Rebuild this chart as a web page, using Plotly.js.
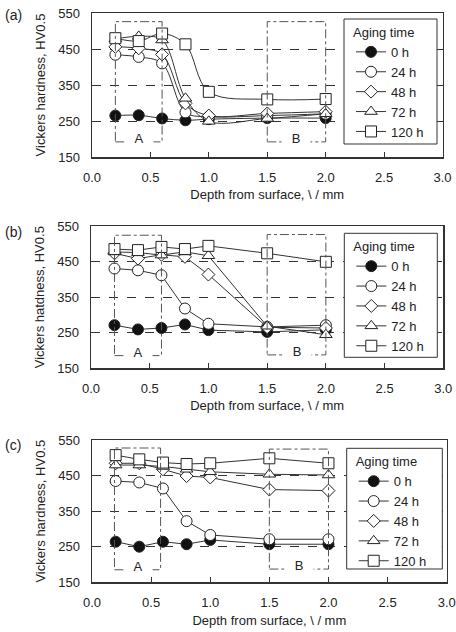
<!DOCTYPE html>
<html>
<head>
<meta charset="utf-8">
<script src="https://cdn.plot.ly/plotly-3.0.1.min.js"></script>
<style>html,body{margin:0;padding:0;background:#fff;}#chart{width:456px;height:632px;}</style>
</head>
<body>
<div id="chart"></div>
<script>
// ---- data ----
const depth = [0.2, 0.4, 0.6, 0.8, 1.0, 1.5, 2.0];
const agingLabels = ['0 h', '24 h', '48 h', '72 h', '120 h'];

const a_0h   = [265, 266, 257, 252, 255, 258, 258];
const a_24h  = [434, 428, 410, 274, 262, 265, 270];
const a_48h  = [456, 452, 435, 299, 265, 271, 276];
const a_72h  = [478, 485, 475, 313, 249, 257, 270];
const a_120h = [480, 472, 493, 463, 331, 310, 311];

const b_0h   = [271, 259, 263, 273, 257, 252, 258];
const b_24h  = [431, 426, 412, 318, 275, 266, 271];
const b_48h  = [474, 459, 470, 464, 414, 265, 263];
const b_72h  = [478, 476, 469, 478, 467, 268, 244];
const b_120h = [486, 483, 492, 486, 495, 474, 450];

const c_0h   = [264, 250, 264, 257, 269, 257, 257];
const c_24h  = [435, 431, 414, 322, 283, 271, 271];
const c_48h  = [485, 485, 468, 449, 445, 411, 408];
const c_72h  = [480, 480, 476, 468, 461, 454, 452];
const c_120h = [508, 496, 487, 483, 485, 499, 485];

const xTickVals = [0, 0.5, 1.0, 1.5, 2.0, 2.5, 3.0];
const yTickVals = [150, 250, 350, 450, 550];
const xTitle = 'Depth from surface, \\ / mm';
const yTitles = ['Vickers hardness, HV0.5', 'Vickers hatdness, HV0.5', 'Vickers hardness, HV0.5'];
const panelLabels = ['(a)', '(b)', '(c)'];
const legendTitle = 'Aging time';

// ---- styling ----
const FONT = 'Liberation Sans, Arial, Helvetica, sans-serif';
const INK = '#222';
const markerStyles = [
  {symbol: 'circle', color: '#111'},
  {symbol: 'circle', color: '#fff'},
  {symbol: 'diamond', color: '#fff'},
  {symbol: 'triangle-up', color: '#fff'},
  {symbol: 'square', color: '#fff'}
];
const markerSizes = [11, 11, 10, 11, 11];

const panels = [
  {series: [a_0h, a_24h, a_48h, a_72h, a_120h], shape: 'spline'},
  {series: [b_0h, b_24h, b_48h, b_72h, b_120h], shape: 'linear'},
  {series: [c_0h, c_24h, c_48h, c_72h, c_120h], shape: 'linear'}
];

const W = 456, H = 632;
// plot area pixel boxes [left, right, top, bottom]
const boxes = [
  [92, 442.5, 13, 157],
  [91, 443.3, 226.4, 368],
  [92, 446.7, 440.2, 582.2]
];
// legend frame boxes [left, right, top, bottom]
const legendBoxes = [
  [344, 437, 19, 144],
  [344.3, 437.3, 233.3, 357.3],
  [346.7, 442.3, 448.3, 569]
];

const traces = [];
panels.forEach((p, pi) => {
  const sfx = pi === 0 ? '' : String(pi + 1);
  p.series.forEach((vals, si) => {
    traces.push({
      type: 'scatter', mode: 'lines+markers',
      x: depth, y: vals, name: agingLabels[si],
      xaxis: 'x' + sfx, yaxis: 'y' + sfx,
      legend: 'legend' + sfx,
      line: {color: '#333', width: 1, shape: p.shape, smoothing: 1},
      marker: {symbol: markerStyles[si].symbol, color: markerStyles[si].color,
               size: markerSizes[si], line: {color: '#222', width: 1}},
      cliponaxis: false
    });
  });
});

const layout = {
  width: W, height: H,
  margin: {l: 0, r: 0, t: 0, b: 0},
  paper_bgcolor: '#fff', plot_bgcolor: '#fff',
  font: {family: FONT, size: 13, color: INK},
  showlegend: true,
  shapes: [], annotations: []
};

const boxA = [[0.2, 0.6, 192, 526], [0.2, 0.6, 185, 525], [0.19, 0.58, 185, 528]];
const boxB = [[1.5, 2.0, 192, 526], [1.5, 2.0, 187, 527], [1.5, 2.0, 187, 525]];

boxes.forEach((b, i) => {
  const sfx = i === 0 ? '' : String(i + 1);
  const lb = legendBoxes[i];
  layout['xaxis' + sfx] = {
    domain: [b[0] / W, b[1] / W], anchor: 'y' + sfx,
    range: [0, 3], tickvals: xTickVals, tickformat: '.1f',
    ticks: 'inside', ticklen: 5, tickcolor: '#333', tickwidth: 1,
    showline: true, mirror: true, linecolor: '#333', linewidth: 1.5,
    showgrid: false, zeroline: false, ticklabelstandoff: 8,
    tickfont: {size: 13, color: INK},
    title: {text: xTitle, font: {size: 13, color: INK}, standoff: 6}
  };
  layout['yaxis' + sfx] = {
    domain: [1 - b[3] / H, 1 - b[2] / H], anchor: 'x' + sfx,
    range: [150, 550], tickvals: yTickVals,
    ticks: '', showline: true, mirror: true, linecolor: '#333', linewidth: 1.5,
    showgrid: true, griddash: 'dash', gridcolor: '#333', gridwidth: 1,
    zeroline: false, ticklabelstandoff: 8,
    tickfont: {size: 13, color: INK},
    title: {text: yTitles[i], font: {size: 13, color: INK}, standoff: 9}
  };
  layout['legend' + sfx] = {
    x: (lb[0] + 7) / W, y: 1 - (lb[2] + 1) / H,
    xanchor: 'left', yanchor: 'top',
    bgcolor: 'rgba(0,0,0,0)', borderwidth: 0,
    font: {size: 13, color: INK},
    title: {text: legendTitle, font: {size: 13, color: INK}},
    itemwidth: 30
  };
  // legend frame
  layout.shapes.push({
    type: 'rect', xref: 'paper', yref: 'paper',
    x0: lb[0] / W, x1: lb[1] / W, y0: 1 - lb[3] / H, y1: 1 - lb[2] / H,
    line: {color: '#333', width: 1}, fillcolor: '#fff', layer: 'above'
  });
  [boxA[i], boxB[i]].forEach(r => {
    layout.shapes.push({
      type: 'rect', xref: 'x' + sfx, yref: 'y' + sfx,
      x0: r[0], x1: r[1], y0: r[2], y1: r[3],
      line: {color: '#555', width: 1, dash: 'dashdot'}, layer: 'above'
    });
  });
  layout.annotations.push({
    xref: 'x' + sfx, yref: 'y' + sfx, x: (boxA[i][0] + boxA[i][1]) / 2, y: boxA[i][2] + 10,
    text: 'A', showarrow: false, bgcolor: '#fff', width: 26, font: {size: 13, color: INK}
  });
  layout.annotations.push({
    xref: 'x' + sfx, yref: 'y' + sfx, x: 1.75, y: boxB[i][2] + 10,
    text: 'B', showarrow: false, bgcolor: '#fff', width: 26, font: {size: 13, color: INK}
  });
  layout.annotations.push({
    xref: 'paper', yref: 'paper', x: 3 / W, y: 1 - [15, 232, 445][i] / H,
    xanchor: 'left', yanchor: 'middle',
    text: panelLabels[i], showarrow: false, font: {size: 14, color: INK}
  });
});

Plotly.newPlot('chart', traces, layout, {staticPlot: true, displayModeBar: false});
</script>
</body>
</html>
